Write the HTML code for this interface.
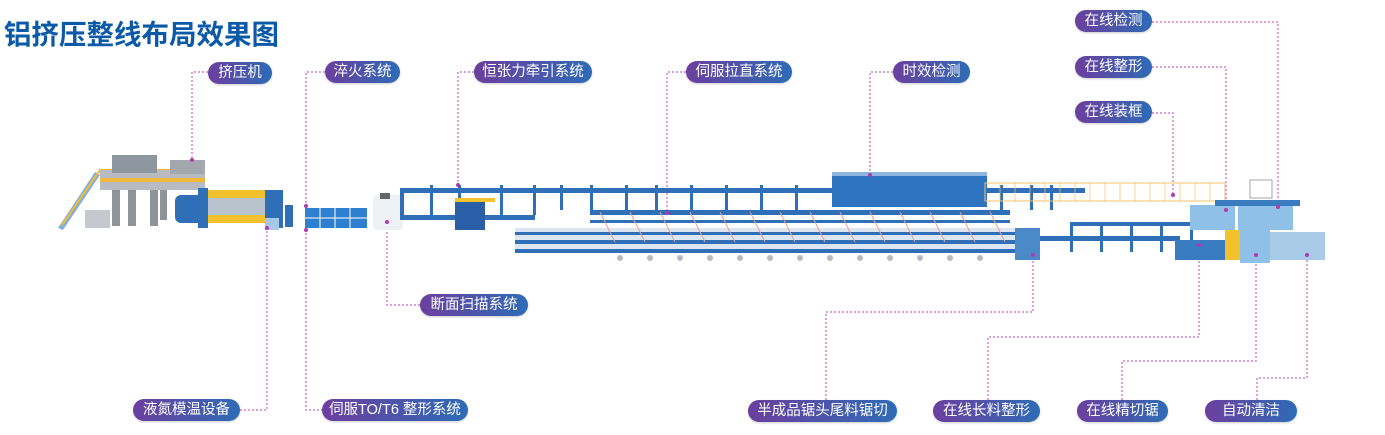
<!DOCTYPE html>
<html><head><meta charset="utf-8"><style>
html,body{margin:0;padding:0;background:#fff;}
body{width:1385px;height:435px;position:relative;overflow:hidden;font-family:"Liberation Sans","Noto Sans CJK SC",sans-serif;}
.t{position:absolute;left:4px;top:12px;font-size:27.5px;font-weight:bold;color:#0b5aa8;font-family:"Liberation Sans","Noto Sans CJK SC",sans-serif;}
.p{position:absolute;height:22px;line-height:22px;border-radius:11px;color:#fff;font-size:14.5px;text-align:center;background:linear-gradient(90deg,#6c3f9e,#2e6bb6);white-space:nowrap;box-shadow:0 1px 2px rgba(0,0,0,.2);}
svg{position:absolute;left:0;top:0;}
</style></head><body>
<svg width="1385" height="435" viewBox="0 0 1385 435">
<g fill="none" stroke="#c865c8" stroke-width="1.2" stroke-dasharray="2,2">
<path d="M208 72H192V160"/>
<path d="M325 72H306V410H322"/>
<path d="M474 72H458V185"/>
<path d="M686 72H667V213"/>
<path d="M893 72H870V175"/>
<path d="M1152 22H1278V207"/>
<path d="M1152 67H1226V210"/>
<path d="M1152 113H1173V195"/>
<path d="M420 305H387V222"/>
<path d="M240 410H267V228"/>
<path d="M826 400V312H1033V255"/>
<path d="M988 400V337H1199V245"/>
<path d="M1122 400V361H1256V255"/>
<path d="M1257 400V378H1307V255"/>
</g>
<g>
<polygon points="58,228 95,172 100,175 63,230" fill="#7fb0d8"/>
<path d="M62 225L100 170H205" stroke="#f2b93a" stroke-width="2" fill="none"/>
<rect x="100" y="170" width="105" height="20" fill="#b8bcc2"/>
<rect x="100" y="178" width="105" height="4" fill="#f2b93a"/>
<rect x="112" y="155" width="45" height="18" fill="#8e96a0"/>
<rect x="170" y="160" width="35" height="14" fill="#a2a8ae"/>
<g fill="#8f949a"><rect x="112" y="190" width="8" height="36"/><rect x="128" y="190" width="8" height="36"/><rect x="150" y="190" width="8" height="36"/><rect x="160" y="190" width="7" height="30"/></g>
<rect x="85" y="210" width="25" height="18" fill="#c5c9cd"/>
<rect x="175" y="195" width="30" height="28" rx="6" fill="#2f6fb8"/>
<rect x="200" y="190" width="75" height="8" fill="#f2c12e"/>
<rect x="200" y="215" width="75" height="8" fill="#f2c12e"/>
<rect x="205" y="198" width="65" height="17" fill="#b8c2cc"/>
<rect x="198" y="188" width="10" height="40" fill="#2f6fb8"/>
<rect x="265" y="190" width="18" height="38" fill="#2f6fb8"/>
<rect x="265" y="218" width="14" height="12" fill="#a8c8e8"/>
<rect x="285" y="205" width="8" height="22" fill="#2f6fb8"/>
<rect x="305" y="208" width="62" height="20" fill="#2f7fd0"/>
<g stroke="#fff" stroke-width="1"><path d="M305 218H367M320 208V228M335 208V228M350 208V228"/></g>
<rect x="373" y="195" width="30" height="35" rx="4" fill="#eef1f4"/>
<rect x="380" y="193" width="10" height="6" fill="#666"/>
<rect x="400" y="188" width="685" height="5" fill="#2f6fb8"/>
<rect x="400" y="215" width="135" height="5" fill="#2f6fb8"/>
<rect x="400" y="188" width="4" height="32" fill="#2f6fb8"/>
<g fill="#2f6fb8"><rect x="430" y="185" width="3" height="30"/><rect x="458" y="185" width="3" height="30"/><rect x="500" y="185" width="3" height="30"/><rect x="533" y="185" width="3" height="30"/><rect x="560" y="185" width="3" height="25"/><rect x="590" y="185" width="3" height="25"/><rect x="625" y="185" width="3" height="25"/><rect x="655" y="185" width="3" height="25"/><rect x="690" y="185" width="3" height="25"/><rect x="725" y="185" width="3" height="25"/><rect x="760" y="185" width="3" height="25"/><rect x="795" y="185" width="3" height="25"/><rect x="1000" y="185" width="3" height="25"/><rect x="1030" y="185" width="3" height="25"/><rect x="1050" y="185" width="3" height="25"/></g>
<rect x="455" y="200" width="30" height="30" fill="#2a5fa8"/>
<rect x="455" y="198" width="40" height="4" fill="#f2c12e"/>
<rect x="515" y="228" width="500" height="25" fill="#dce6f1"/>
<rect x="515" y="232" width="500" height="3" fill="#2f6fb8"/>
<rect x="515" y="240" width="500" height="4" fill="#2f6fb8"/>
<rect x="515" y="249" width="500" height="4" fill="#2f6fb8"/>
<rect x="590" y="210" width="420" height="5" fill="#2f6fb8"/>
<rect x="590" y="220" width="420" height="3" fill="#2f6fb8"/>
<g stroke="#e6a090" stroke-width="1"><path d="M600 212l15 30M630 212l15 30M660 212l15 30M690 212l15 30M720 212l15 30M750 212l15 30M780 212l15 30M810 212l15 30M840 212l15 30M870 212l15 30M900 212l15 30M930 212l15 30M960 212l15 30M990 212l15 30"/></g>
<g fill="#b8bcc2"><circle cx="620" cy="258" r="3"/><circle cx="650" cy="258" r="3"/><circle cx="680" cy="258" r="3"/><circle cx="710" cy="258" r="3"/><circle cx="740" cy="258" r="3"/><circle cx="770" cy="258" r="3"/><circle cx="800" cy="258" r="3"/><circle cx="830" cy="258" r="3"/><circle cx="860" cy="258" r="3"/><circle cx="890" cy="258" r="3"/><circle cx="920" cy="258" r="3"/><circle cx="950" cy="258" r="3"/><circle cx="980" cy="258" r="3"/></g>
<rect x="1015" y="228" width="25" height="32" fill="#4a8ac8"/>
<rect x="832" y="172" width="155" height="35" fill="#2f74c0"/>
<rect x="832" y="172" width="155" height="4" fill="#8fb6de"/>
<rect x="985" y="183" width="240" height="18" fill="none" stroke="#f2c36a" stroke-width="1"/>
<g stroke="#f2c36a" stroke-width="0.7"><path d="M1000 183v18M1015 183v18M1030 183v18M1045 183v18M1060 183v18M1075 183v18M1090 183v18M1105 183v18M1120 183v18M1135 183v18M1150 183v18M1165 183v18M1180 183v18M1195 183v18M1210 183v18"/></g>
<rect x="1040" y="236" width="140" height="5" fill="#2f6fb8"/>
<rect x="1070" y="222" width="125" height="4" fill="#2f6fb8"/>
<g fill="#2f6fb8"><rect x="1070" y="222" width="3" height="30"/><rect x="1100" y="222" width="3" height="30"/><rect x="1130" y="222" width="3" height="30"/><rect x="1160" y="222" width="3" height="30"/><rect x="1190" y="222" width="3" height="30"/></g>
<rect x="1190" y="205" width="45" height="25" fill="#8fc0e8"/>
<rect x="1238" y="205" width="55" height="25" fill="#8fc0e8"/>
<rect x="1215" y="200" width="85" height="6" fill="#3a7cc0"/>
<rect x="1175" y="240" width="50" height="20" fill="#3a7cc0"/>
<rect x="1225" y="230" width="25" height="30" fill="#f2c12e"/>
<rect x="1240" y="228" width="30" height="35" fill="#8fc0e8"/>
<rect x="1270" y="232" width="55" height="28" fill="#a8cce8"/>
<rect x="1250" y="180" width="22" height="18" fill="none" stroke="#a0a6ad"/>
</g>
<g fill="#b03ab0">
<circle cx="192" cy="160" r="2"/><circle cx="306" cy="206" r="2"/><circle cx="306" cy="230" r="2"/><circle cx="458" cy="185" r="2"/><circle cx="667" cy="213" r="2"/><circle cx="870" cy="175" r="2"/><circle cx="1278" cy="207" r="2"/><circle cx="1226" cy="210" r="2"/><circle cx="1173" cy="195" r="2"/><circle cx="387" cy="222" r="2"/><circle cx="267" cy="228" r="2"/><circle cx="1033" cy="255" r="2"/><circle cx="1199" cy="245" r="2"/><circle cx="1256" cy="255" r="2"/><circle cx="1307" cy="255" r="2"/>
</g>
</svg>
<div class="t">铝挤压整线布局效果图</div>
<div class="p" style="left:208px;top:62px;width:64px">挤压机</div>
<div class="p" style="left:325px;top:61px;width:75px">淬火系统</div>
<div class="p" style="left:474px;top:61px;width:118px">恒张力牵引系统</div>
<div class="p" style="left:686px;top:61px;width:106px">伺服拉直系统</div>
<div class="p" style="left:893px;top:61px;width:77px">时效检测</div>
<div class="p" style="left:1075px;top:10px;width:77px">在线检测</div>
<div class="p" style="left:1075px;top:56px;width:77px">在线整形</div>
<div class="p" style="left:1075px;top:101px;width:77px">在线装框</div>
<div class="p" style="left:420px;top:294px;width:108px">断面扫描系统</div>
<div class="p" style="left:133px;top:399px;width:107px">液氮模温设备</div>
<div class="p" style="left:322px;top:399px;width:146px">伺服TO/T6 整形系统</div>
<div class="p" style="left:748px;top:400px;width:149px">半成品锯头尾料锯切</div>
<div class="p" style="left:933px;top:400px;width:107px">在线长料整形</div>
<div class="p" style="left:1077px;top:400px;width:91px">在线精切锯</div>
<div class="p" style="left:1205px;top:400px;width:92px">自动清洁</div>
</body></html>
